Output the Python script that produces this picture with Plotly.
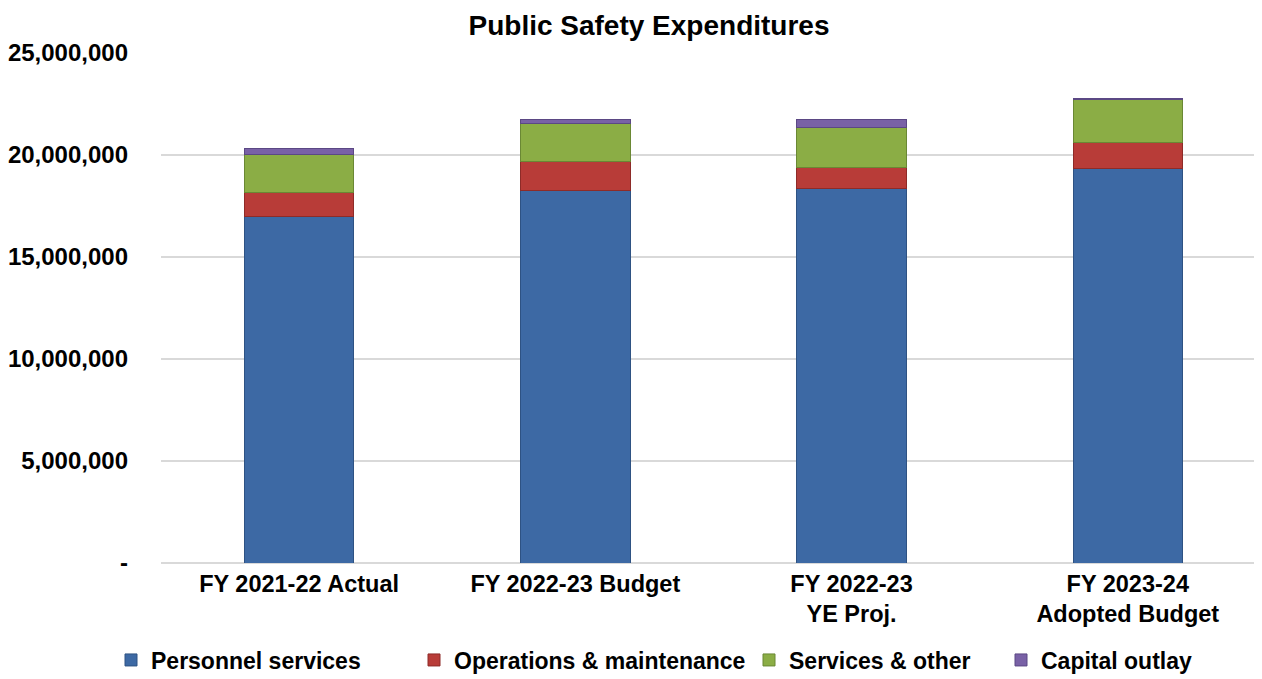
import plotly.graph_objects as go

categories = ["FY 2021-22 Actual", "FY 2022-23 Budget", "FY 2022-23<br>YE Proj.", "FY 2023-24<br>Adopted Budget"]
personnel = [17000000, 18280000, 18380000, 19360000]
operations = [1180000, 1420000, 1030000, 1270000]
services = [1860000, 1860000, 1960000, 2110000]
capital = [290000, 180000, 350000, 30000]

series_names = ["Personnel services", "Operations & maintenance", "Services & other", "Capital outlay"]
tick_vals = [0, 5000000, 10000000, 15000000, 20000000, 25000000]
tick_text = ["-", "5,000,000", "10,000,000", "15,000,000", "20,000,000", "25,000,000"]

colors = ["#3D69A4", "#B83C38", "#8BAD45", "#7961A6"]
lines = ["#2E5283", "#8E2B28", "#6A8834", "#5B4884"]
legend_widths = [258, 290, 207, 160]

FONT = "Liberation Sans, Arial, sans-serif"
W, H = 1254, 671  # page body keeps an 8px margin inside the 1262x679 window

fig = go.Figure()
for name, vals, c, lc, lw in zip(series_names, [personnel, operations, services, capital], colors, lines, legend_widths):
    fig.add_trace(go.Bar(
        x=categories, y=vals, name=name,
        marker=dict(color=c, line=dict(color=lc, width=1)),
        legendwidth=lw,
    ))

fig.update_layout(
    barmode="stack",
    bargap=0.604,
    width=W, height=H,
    paper_bgcolor="white", plot_bgcolor="white",
    margin=dict(l=146, r=0, t=45, b=116),
    title=dict(
        text="Public Safety Expenditures",
        font=dict(family=FONT, size=28, color="black", weight="bold"),
        x=641 / W, xanchor="center", xref="container",
        y=1 - 17 / H, yanchor="middle", yref="container",
    ),
    font=dict(family=FONT, color="black"),
    showlegend=True,
    legend=dict(
        orientation="h",
        xref="container", yref="container",
        x=103 / W, xanchor="left",
        y=19 / H, yanchor="middle",
        font=dict(family=FONT, size=23, color="black", weight="bold"),
        traceorder="normal",
        bgcolor="rgba(0,0,0,0)",
    ),
    xaxis=dict(
        range=[-0.5, 3.486],
        showgrid=False, showline=False, zeroline=False,
        tickfont=dict(family=FONT, size=23.5, color="black", weight="bold"),
        ticks="", ticklabelstandoff=4,
    ),
    yaxis=dict(
        range=[0, 25000000],
        tickvals=tick_vals, ticktext=tick_text,
        showgrid=True, gridcolor="#D9D9D9", gridwidth=1.5,
        zeroline=True, zerolinecolor="#D9D9D9", zerolinewidth=1.5,
        showline=False,
        tickfont=dict(family=FONT, size=24, color="black", weight="bold"),
        ticks="", ticklabelstandoff=32,
    ),
)

fig.write_html("out.html")
